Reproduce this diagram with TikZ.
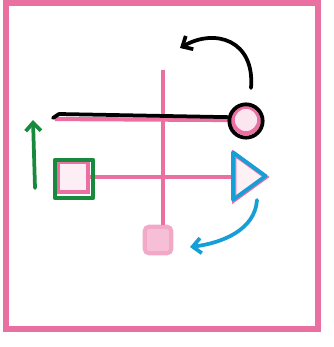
\documentclass[tikz,border=0pt]{standalone}
\usepackage{tikz}
\usetikzlibrary{arrows.meta,shapes.geometric}
\definecolor{pinkc}{RGB}{234,112,162}
\definecolor{greenc}{RGB}{24,138,62}
\definecolor{bluec}{RGB}{22,158,214}

\begin{document}
\begin{tikzpicture}[x=0.03cm, y=-0.03cm,
    pk/.style={draw=pinkc, line width=3.6pt},
    pkfill/.style={pk, fill=pinkc!35, inner sep=0pt},
    pen/.style={line width=3.2pt, line cap=round, line join=round},
    barb/.style={pen, -{Straight Barb[length=7pt, width=13pt]}}
]
\useasboundingbox (0,0) rectangle (333,347);
% frame
\draw[draw=pinkc, line width=5.5pt] (6,3) rectangle (318,329);

% pink figure
\node[pkfill, circle, minimum size=0.8cm, fill=pinkc!18] (pc) at (246,120) {};
\node[pkfill, minimum size=0.9cm, fill=pinkc!12] (psq) at (73,177) {};
\node[pkfill, isosceles triangle, isosceles triangle apex angle=72, minimum height=0.95cm, fill=pinkc!10] (ptri) at (246,177) {};
\node[pkfill, rounded corners=4pt, minimum size=0.8cm, fill=pinkc!45, draw=pinkc!60] (pdot) at (158,240) {};
\coordinate (ptop) at (163,70);
\coordinate (pleft) at (55,119);

\draw[pk] (pleft) -- (pc.west);
\draw[pk] (psq.east) -- (ptri.west);
\draw[pk] (ptop) -- (ptop |- pdot.north);

% pen marks
\node[pen, draw=black, circle, minimum size=1cm] (bc) at (246,121) {};
\node[pen, draw=greenc, minimum size=1.15cm] (gsq) at (74,179) {};
\node[pen, draw=bluec, isosceles triangle, isosceles triangle apex angle=72, minimum height=0.98cm, inner sep=0pt] (btri) at (245,176) {};

\coordinate (bstart) at (251,88);
\coordinate (bend) at (180,48);
\draw[pen] (53,118) -- (59,114) -- (bc.168);
\draw[barb] (bstart) .. controls (255,40) and (215,28) .. (bend);

\coordinate (gstart) at (35,188);
\coordinate (gend) at (33,120);
\draw[barb, draw=greenc] (gstart) -- (gend);

\coordinate (lstart) at (257,200);
\coordinate (lend) at (190,247);
\draw[barb, draw=bluec] (lstart) .. controls (255,230) and (222,243) .. (lend);
\end{tikzpicture}
\end{document}
